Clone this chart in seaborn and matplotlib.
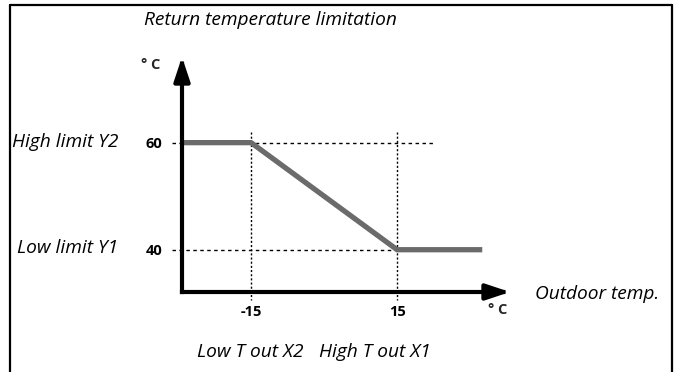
import matplotlib
matplotlib.use("Agg")
import matplotlib.pyplot as plt
import seaborn as sns
import pandas as pd
from matplotlib.lines import Line2D

sns.set_theme(style="white")
plt.rcParams['font.family'] = ['Open Sans', 'DejaVu Sans']

# data
outdoor_temp = [-29.2, -15, 15, 32.5]
return_limit = [60, 60, 40, 40]
x_ticks = [-15, 15]
x_tick_labels = ["-15", "15"]
y_ticks = [40, 60]
y_tick_labels = ["40", "60"]
title = "Return temperature limitation"
y_names = ["Low limit Y1", "High limit Y2"]
x_names = ["Low T out X2", "High T out X1"]

W, H = 675, 372
fig = plt.figure(figsize=(W / 100, H / 100), dpi=100)
# axes area in pixels
x0, x1, yb, yt = 182, 510, 292, 57
ax = fig.add_axes([x0 / W, (H - yb) / H, (x1 - x0) / W, (yb - yt) / H])
ax.set_xlim(-29.2, 38.2)
ax.set_ylim(32.1, 76)
ax.patch.set_alpha(0)
for s in ax.spines.values():
    s.set_visible(False)

df = pd.DataFrame({"x": outdoor_temp, "y": return_limit})
sns.lineplot(data=df, x="x", y="y", ax=ax, color="#6b6b6b", linewidth=3.8,
             solid_capstyle="butt", solid_joinstyle="miter", zorder=4)

# reference lines
dot = dict(color="black", linewidth=1.0, linestyle=(0, (2.5, 2.5)), clip_on=False, zorder=2)
ax.plot([-31.2, 22.4], [y_ticks[1]] * 2, **dot)
ax.plot([-31.2, x_ticks[1]], [y_ticks[0]] * 2, **dot)
for xv in x_ticks:
    ax.plot([xv, xv], [61.9, 30.6], color="black", linewidth=1.0,
            linestyle=(0, (1.5, 1.5)), clip_on=False, zorder=2)

# arrow axes
arrow = dict(arrowstyle="-|>,head_length=1.2,head_width=0.4", color="black",
             lw=3, shrinkA=0, shrinkB=0, capstyle="projecting")
ax.annotate("", xy=(1.0, 0.0), xytext=(0.0, 0.0), xycoords="axes fraction",
            arrowprops=arrow, zorder=5)
ax.annotate("", xy=(0.0, 1.0), xytext=(0.0, 0.0), xycoords="axes fraction",
            arrowprops=arrow, zorder=5)

ax.set_xticks(x_ticks)
ax.set_xticklabels(x_tick_labels, fontweight="bold", fontsize=10.5)
ax.set_yticks(y_ticks)
ax.set_yticklabels(y_tick_labels, fontweight="bold", fontsize=10.5)
ax.tick_params(axis="both", length=0, colors="black")
ax.tick_params(axis="x", pad=9)
ax.tick_params(axis="y", pad=14)
ax.set_xlabel("")
ax.set_ylabel("")

def px(x, y):
    return x / W, (H - y) / H

it = dict(style="italic", fontsize=13.8, color="black")
fig.text(*px(144, 20), title, ha="left", va="center", **it)
fig.text(*px(12, 142), y_names[1], ha="left", va="center", **it)
fig.text(*px(17, 248), y_names[0], ha="left", va="center", **it)
fig.text(*px(535, 294), "Outdoor temp.", ha="left", va="center", **it)
fig.text(*px(197, 352), x_names[0], ha="left", va="center", **it)
fig.text(*px(319, 352), x_names[1], ha="left", va="center", **it)
fig.text(*px(151, 65), "° C", ha="center", va="center", fontsize=10.5, fontweight="bold")
fig.text(*px(498, 310), "° C", ha="center", va="center", fontsize=10.5, fontweight="bold")

# frame (top, left, right)
fr = dict(color="black", linewidth=1.6, transform=fig.transFigure)
fig.add_artist(Line2D([10 / W, 672 / W], [1 - 5 / H, 1 - 5 / H], **fr))
fig.add_artist(Line2D([10 / W, 10 / W], [0, 1 - 5 / H], **fr))
fig.add_artist(Line2D([672 / W, 672 / W], [0, 1 - 5 / H], **fr))

fig.savefig("out.png", dpi=100, facecolor="white")
